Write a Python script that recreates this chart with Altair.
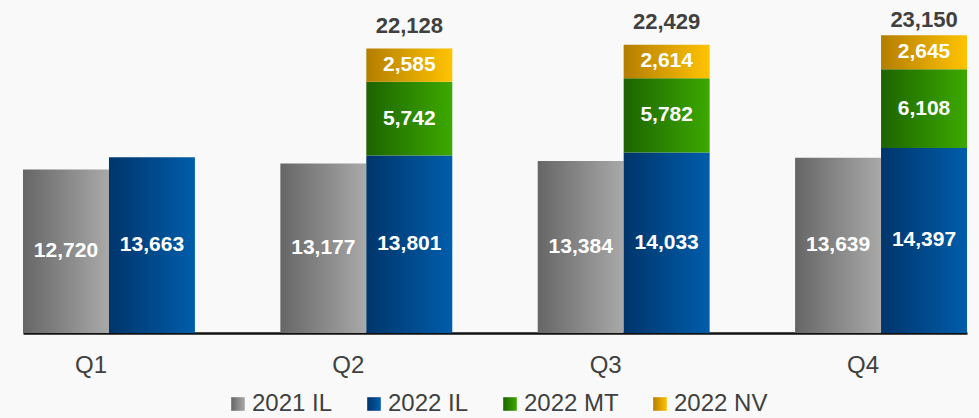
import altair as alt
import pandas as pd

FONT = "Liberation Sans"
TEXT_DARK = "#404040"

quarters = ["Q1", "Q2", "Q3", "Q4"]
il_2021 = [12720, 13177, 13384, 13639]
il_2022 = [13663, 13801, 14033, 14397]
mt_2022 = [None, 5742, 5782, 6108]
nv_2022 = [None, 2585, 2614, 2645]
totals_2022 = [None, 22128, 22429, 23150]
series_names = ["2021 IL", "2022 IL", "2022 MT", "2022 NV"]
series_groups = ["2021", "2022", "2022", "2022"]
group_names = ["2021", "2022"]
gradient_stops = [
    ("#666666", "#a9a9a9"),
    ("#00356b", "#005dab"),
    ("#1d6400", "#3ca900"),
    ("#b47e00", "#ffc300"),
]

series_values = [il_2021, il_2022, mt_2022, nv_2022]
rows = []
for qi, q in enumerate(quarters):
    for si, name in enumerate(series_names):
        v = series_values[si][qi]
        if v is None:
            continue
        rows.append({"quarter": q, "grp": series_groups[si], "series": name,
                     "value": v, "order": si})
df = pd.DataFrame(rows)

tot_rows = [{"quarter": q, "grp": "2022", "total": t}
            for q, t in zip(quarters, totals_2022) if t is not None]
df_tot = pd.DataFrame(tot_rows)


def grad_expr(c0, c1):
    return {"expr": "{gradient: 'linear', x1: 0, y1: 0, x2: 1, y2: 0, stops: ["
                    f"{{offset: 0, color: '{c0}'}}, {{offset: 1, color: '{c1}'}}]}}"}


color_range = [grad_expr(a, b) for a, b in gradient_stops]

x_enc = alt.X(
    "quarter:N",
    sort=quarters,
    scale=alt.Scale(domain=quarters, range=[23, 967], paddingInner=0.332, paddingOuter=0),
    axis=alt.Axis(title=None, labelAngle=0, ticks=False, tickSize=0, labelPadding=39,
                  labelBaseline="alphabetic", labelFontSize=24, labelFont=FONT,
                  labelColor=TEXT_DARK, domainColor="#111111", domainWidth=2.5,
                  labelOffset=-18, grid=False),
)
xo_enc = alt.XOffset("grp:N", scale=alt.Scale(domain=group_names, paddingInner=0, paddingOuter=0))
y_scale = alt.Scale(domain=[0, 25900], nice=False, zero=True)

bars = alt.Chart(df).mark_bar(stroke=None).encode(
    x=x_enc,
    xOffset=xo_enc,
    y=alt.Y("value:Q", stack="zero", scale=y_scale, axis=None),
    color=alt.Color(
        "series:N",
        scale=alt.Scale(domain=series_names, range=color_range),
        legend=alt.Legend(
            title=None, orient="none", legendX=226, legendY=392, direction="horizontal",
            columns=4, symbolType="square", symbolSize=185, symbolStrokeWidth=0,
            labelFontSize=24, labelFont=FONT, labelColor=TEXT_DARK, labelOffset=2,
            columnPadding=29, padding=0,
        ),
    ),
    order=alt.Order("order:Q", sort="ascending"),
)

labels = alt.Chart(df).transform_stack(
    stack="value", groupby=["quarter", "grp"], sort=[alt.SortField("order", order="ascending")],
    as_=["y0", "y1"],
).transform_calculate(
    mid="(datum.y0 + datum.y1) / 2"
).mark_text(
    font=FONT, fontSize=21, fontWeight="bold", color="white", baseline="middle", align="center"
).encode(
    x=x_enc,
    xOffset=xo_enc,
    y=alt.Y("mid:Q", scale=y_scale, axis=None),
    text=alt.Text("value:Q", format=","),
)

totals = alt.Chart(df_tot).transform_calculate(
    label_y="min(datum.total + 1244, 23780)"
).mark_text(
    font=FONT, fontSize=22, fontWeight="bold", color=TEXT_DARK, baseline="alphabetic",
    align="center",
).encode(
    x=x_enc,
    xOffset=xo_enc,
    y=alt.Y("label_y:Q", scale=y_scale, axis=None),
    text=alt.Text("total:Q", format=","),
)

chart = alt.layer(bars, labels, totals).properties(
    width=979,
    height=333,
    autosize=alt.AutoSizeParams(type="none"),
    padding={"left": 0, "top": 0, "right": 0, "bottom": 85},
    background="#f9f9f9",
).configure_view(stroke=None)

chart.save("out.html", embed_options={"renderer": "svg", "actions": False})
